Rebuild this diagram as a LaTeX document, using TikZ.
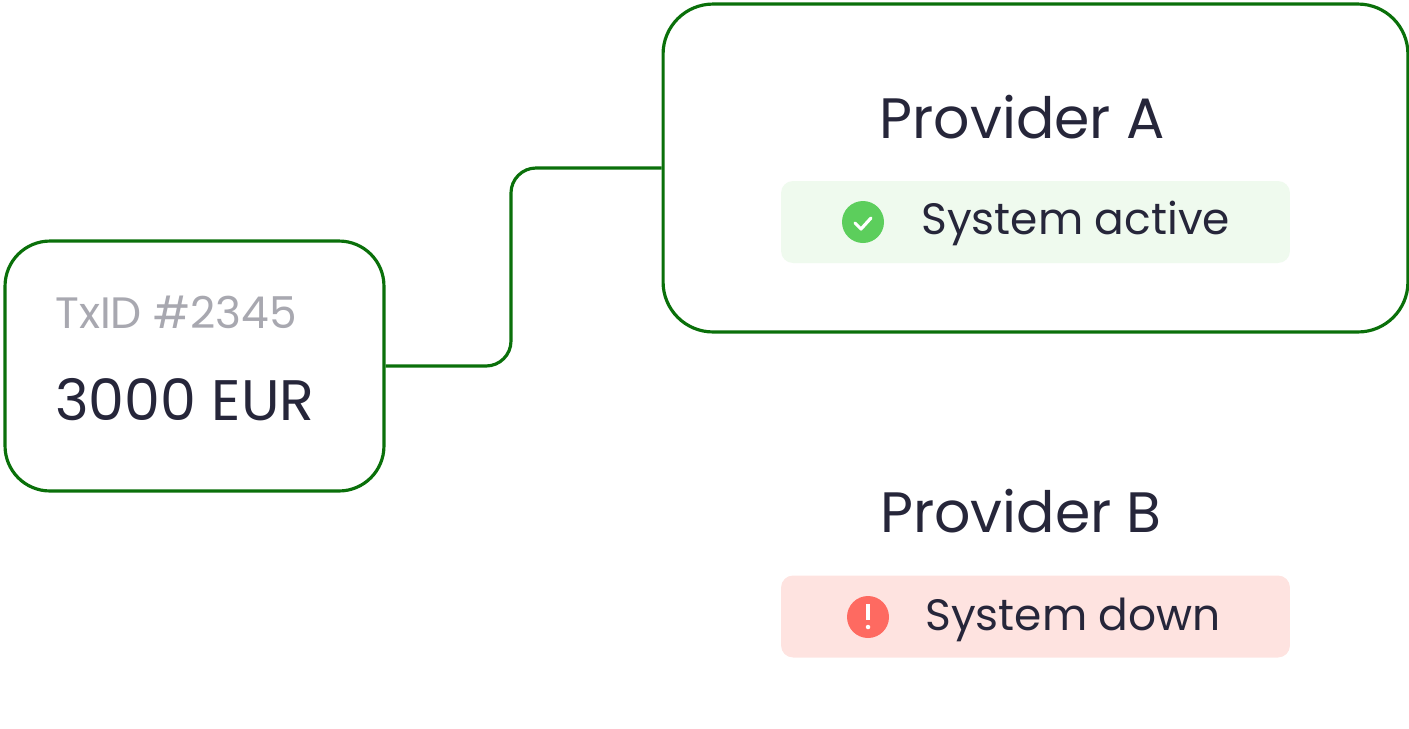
\documentclass[tikz,border=0pt]{standalone}
\usepackage{fontspec}
\setmainfont{Poppins}
\usetikzlibrary{positioning}
\definecolor{linkgreen}{RGB}{10,112,10}
\definecolor{ink}{RGB}{38,38,58}
\definecolor{muted}{RGB}{168,168,176}
\definecolor{okfill}{RGB}{239,250,238}
\definecolor{okdot}{RGB}{92,206,92}
\definecolor{errfill}{RGB}{254,227,224}
\definecolor{errdot}{RGB}{254,106,97}
\tikzset{
    card/.style={rectangle, draw=linkgreen, line width=1.8pt, fill=white},
    pill/.style={rectangle, rounded corners=0.24cm, minimum width=10.18cm, minimum height=1.64cm, inner sep=0pt},
    dot/.style={circle, minimum size=0.84cm, inner sep=0pt},
    label/.style={inner sep=0pt, text=ink}
}
\begin{document}
\begin{tikzpicture}[x=0.02cm, y=-0.02cm]
        \useasboundingbox (0,0) rectangle (1409,728);
        \node[card, rounded corners=0.9cm, minimum width=7.58cm, minimum height=5cm](tx) at (194.5,366) {};
        \node[label, text=muted, anchor=base west, font=\fontsize{25}{30}\selectfont](txid) at (55,328) {TxID \#2345};
        \node[label, anchor=base west, font=\fontsize{32.5}{38}\selectfont](amount) at (55,420) {3000 EUR};
        \node[card, rounded corners=1cm, minimum width=14.9cm, minimum height=6.56cm](provA) at (1035.5,168) {};
        \node[label, anchor=base, font=\fontsize{32.4}{38}\selectfont](nameA) at (1022,138) {Provider A};
        \node[pill, fill=okfill](statusA) at (1035.5,222) {};
        \node[dot, fill=okdot](iconA) at (863,222) {};
        \node[label, anchor=base west, font=\fontsize{25}{30}\selectfont](textA) at (921,234) {System active};
        \draw[white, line width=1.8pt, line cap=round, line join=round] ([shift={(-8,1)}]iconA.center) -- ++(6,6) -- ++(10,-11);
        \node[label, anchor=base, font=\fontsize{32.4}{38}\selectfont](nameB) at (1021,532) {Provider B};
        \node[pill, fill=errfill](statusB) at (1035.5,616.5) {};
        \node[dot, fill=errdot](iconB) at (868,617) {};
        \node[label, anchor=base west, font=\fontsize{25}{30}\selectfont](textB) at (925,630) {System down};
        \draw[white, line width=2pt] ([yshift=0.26cm]iconB.center) -- ([yshift=-0.06cm]iconB.center);
        \fill[white] ([yshift=-0.2cm]iconB.center) circle (0.045cm);
        \coordinate (bend) at (511,0);
        \draw[linkgreen, line width=1.8pt, rounded corners=0.5cm] (tx.east) -- (tx.east -| bend) -- (bend |- provA.west) -- (provA.west);
    \end{tikzpicture}
\end{document}
